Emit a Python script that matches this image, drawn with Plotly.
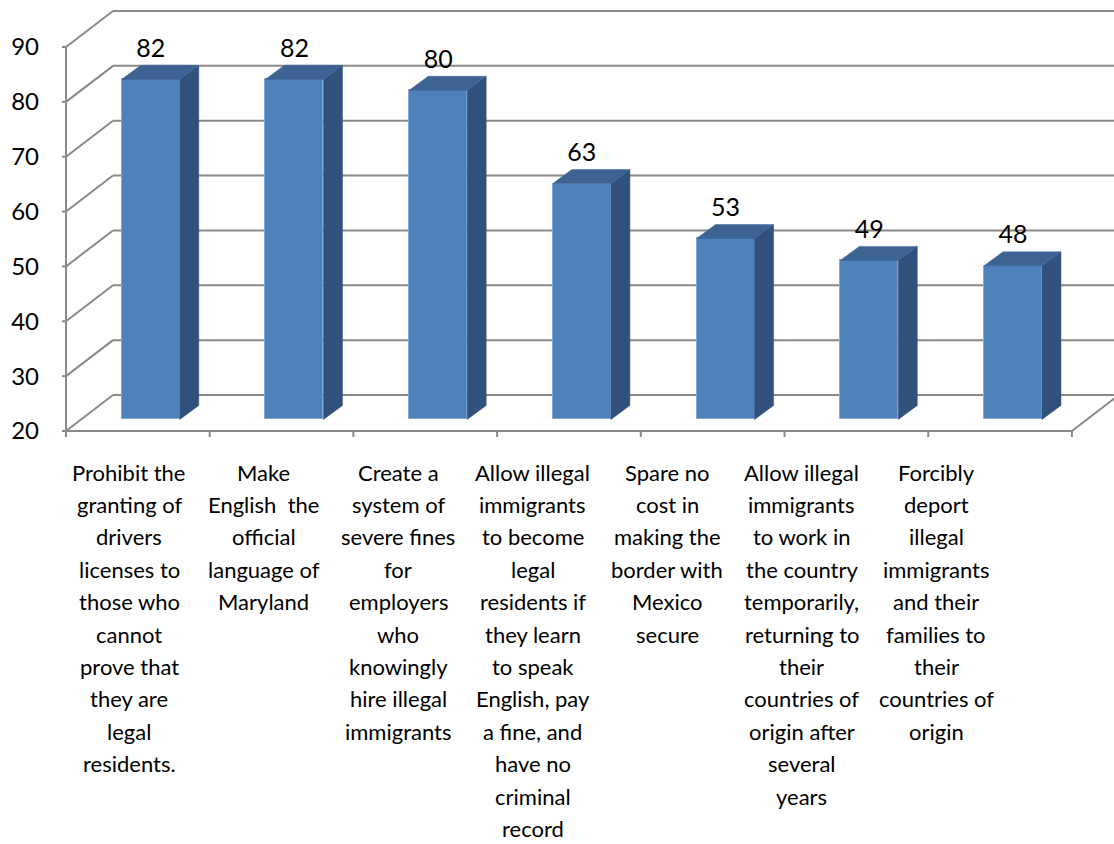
import plotly.graph_objects as go

# ---------------- data ----------------
CATEGORIES = [
    "Prohibit the\ngranting of\ndrivers\nlicenses to\nthose who\ncannot\nprove that\nthey are\nlegal\nresidents.",
    "Make\nEnglish\u00a0 the\nofficial\nlanguage of\nMaryland",
    "Create a\nsystem of\nsevere fines\nfor\nemployers\nwho\nknowingly\nhire illegal\nimmigrants",
    "Allow illegal\nimmigrants\nto become\nlegal\nresidents if\nthey learn\nto speak\nEnglish, pay\na fine, and\nhave no\ncriminal\nrecord",
    "Spare no\ncost in\nmaking the\nborder with\nMexico\nsecure",
    "Allow illegal\nimmigrants\nto work in\nthe country\ntemporarily,\nreturning to\ntheir\ncountries of\norigin after\nseveral\nyears",
    "Forcibly\ndeport\nillegal\nimmigrants\nand their\nfamilies to\ntheir\ncountries of\norigin",
]
VALUES = [82, 82, 80, 63, 53, 49, 48]
Y_TICKS = [20, 30, 40, 50, 60, 70, 80, 90]
Y_MIN = 20

# ---------------- geometry / style ----------------
W, H = 1114, 844
FRONT_LEFT_PX = 66        # pixel x of the front-left axis
FRONT_BOTTOM_PX = 431     # pixel y of the value Y_MIN on the front plane
PX_PER_CAT = 143.7
PX_PER_UNIT = 5.486
PAD = 6                   # px of room left/below so edge lines aren't clipped

L = FRONT_LEFT_PX - PAD
PLOT_BOTTOM = FRONT_BOTTOM_PX + PAD
x_range = [-0.5 - PAD / PX_PER_CAT, -0.5 + (W - FRONT_LEFT_PX) / PX_PER_CAT]
y_range = [Y_MIN - PAD / PX_PER_UNIT, Y_MIN + FRONT_BOTTOM_PX / PX_PER_UNIT]

WALL_DX = 47 / PX_PER_CAT
WALL_DY = 36 / PX_PER_UNIT
BAR_SHIFT_X = 0.09
BAR_SHIFT_Y = 2.1
BAR_W = 58 / PX_PER_CAT
SIDE_DX = 19 / PX_PER_CAT
SIDE_DY = 14 / PX_PER_UNIT

GRID = "#898989"
FRONT = "#4F81BD"
TOP = "#3D6393"
SIDE = "#30517B"
FONT = "Lato"

n = len(VALUES)
xs = list(range(n))

fig = go.Figure()

# --- walls / floor as shapes derived from ticks and categories ---
shapes = []
line = dict(color=GRID, width=2)
for v in Y_TICKS:
    shapes.append(dict(type="line", xref="x", yref="y", layer="below",
                       x0=-0.5, y0=v, x1=-0.5 + WALL_DX, y1=v + WALL_DY, line=line))
    shapes.append(dict(type="line", xref="x", yref="y", layer="below",
                       x0=-0.5 + WALL_DX, y0=v + WALL_DY, x1=x_range[1] + 1, y1=v + WALL_DY,
                       line=line))
# left front axis
shapes.append(dict(type="line", xref="x", yref="y", layer="below",
                   x0=-0.5, y0=Y_TICKS[0], x1=-0.5, y1=Y_TICKS[-1], line=line))
# floor front edge
shapes.append(dict(type="line", xref="x", yref="y", layer="below",
                   x0=-0.5, y0=Y_MIN, x1=n - 0.5, y1=Y_MIN, line=line))
# floor right edge
shapes.append(dict(type="line", xref="x", yref="y", layer="below",
                   x0=n - 0.5, y0=Y_MIN, x1=n - 0.5 + WALL_DX, y1=Y_MIN + WALL_DY, line=line))
# category tick marks
for k in range(n + 1):
    shapes.append(dict(type="line", xref="x", yref="y", layer="below",
                       x0=k - 0.5, y0=Y_MIN, x1=k - 0.5, y1=Y_MIN - 8 / PX_PER_UNIT, line=line))
# y tick marks
for v in Y_TICKS:
    shapes.append(dict(type="line", xref="x", yref="y", layer="below",
                       x0=-0.5 - 4 / PX_PER_CAT, y0=v, x1=-0.5, y1=v, line=line))

# --- bars (front faces) ---
fig.add_trace(go.Bar(
    x=[i + BAR_SHIFT_X for i in xs],
    y=[v - Y_MIN for v in VALUES],
    base=[Y_MIN + BAR_SHIFT_Y] * n,
    width=BAR_W,
    marker=dict(color=FRONT, line=dict(color="#86A8D6", width=1)),
    hoverinfo="skip",
    showlegend=False,
))

# --- side and top faces ---
sx, sy, tx, ty = [], [], [], []
for i, v in zip(xs, VALUES):
    xl = i + BAR_SHIFT_X - BAR_W / 2
    xr = i + BAR_SHIFT_X + BAR_W / 2
    b = Y_MIN + BAR_SHIFT_Y
    t = v + BAR_SHIFT_Y
    sx += [xr, xr + SIDE_DX, xr + SIDE_DX, xr, xr, None]
    sy += [b, b + SIDE_DY, t + SIDE_DY, t, b, None]
    tx += [xl, xr, xr + SIDE_DX, xl + SIDE_DX, xl, None]
    ty += [t, t, t + SIDE_DY, t + SIDE_DY, t, None]

fig.add_trace(go.Scatter(x=sx, y=sy, mode="lines", fill="toself", fillcolor=SIDE,
                         line=dict(color=SIDE, width=0.5), hoverinfo="skip", showlegend=False))
fig.add_trace(go.Scatter(x=tx, y=ty, mode="lines", fill="toself", fillcolor=TOP,
                         line=dict(color=TOP, width=0.5), hoverinfo="skip", showlegend=False))

# --- data labels ---
fig.add_trace(go.Scatter(
    x=[i + BAR_SHIFT_X for i in xs],
    y=[v + BAR_SHIFT_Y + 29 / PX_PER_UNIT for v in VALUES],
    mode="text",
    text=[str(v) for v in VALUES],
    textposition="middle center",
    textfont=dict(family=FONT, size=25, color="black"),
    hoverinfo="skip",
    showlegend=False,
    cliponaxis=False,
))

# --- category labels, one annotation per line ---
annotations = []
LINE_H = 32.4
FIRST_LINE_PX = 472
for i, lab in enumerate(CATEGORIES):
    cx_px = 129 + 134.5 * i
    cx = (cx_px - FRONT_LEFT_PX) / PX_PER_CAT - 0.5
    for k, ln in enumerate(lab.split("\n")):
        py = FIRST_LINE_PX + LINE_H * k
        annotations.append(dict(
            xref="x", yref="paper", x=cx, y=(PLOT_BOTTOM - py) / PLOT_BOTTOM,
            text=ln, showarrow=False, xanchor="center", yanchor="middle",
            font=dict(family=FONT, size=22, color="black"),
        ))

fig.update_layout(
    width=W, height=H,
    margin=dict(l=L, r=0, t=0, b=H - PLOT_BOTTOM, autoexpand=False),
    paper_bgcolor="white", plot_bgcolor="white",
    shapes=shapes, annotations=annotations,
    bargap=0,
    xaxis=dict(range=x_range, visible=False, showgrid=False, zeroline=False, automargin=False),
    yaxis=dict(range=y_range, tickvals=Y_TICKS, ticktext=[str(v) for v in Y_TICKS],
               showgrid=False, zeroline=False, showline=False, ticks="",
               ticklabelstandoff=20, automargin=False,
               tickfont=dict(family=FONT, size=24, color="black")),
    font=dict(family=FONT),
)

fig.write_html("out.html")
